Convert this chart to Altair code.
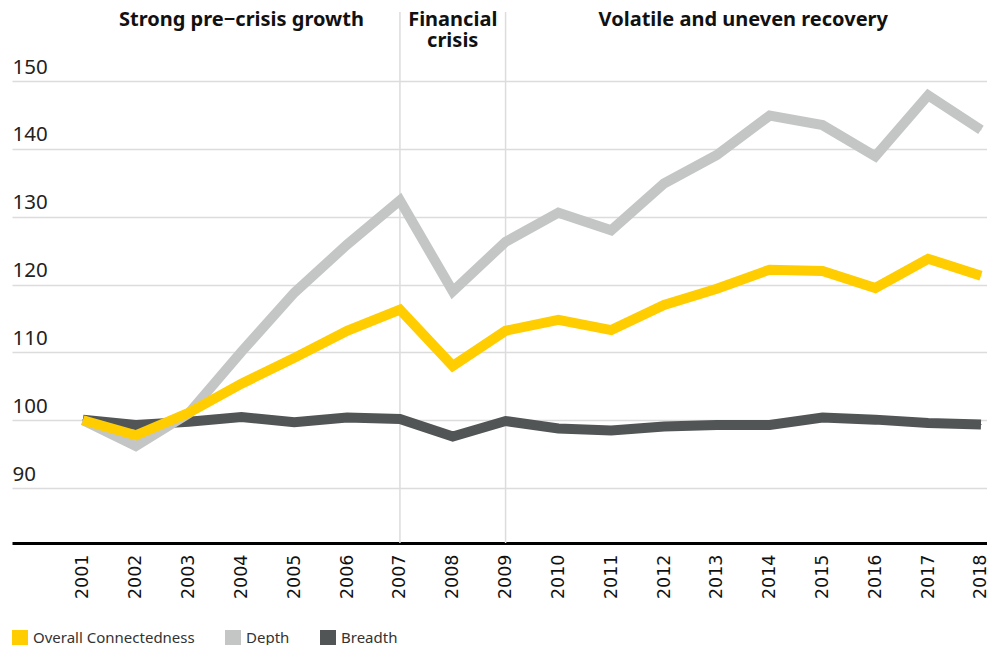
import altair as alt
import pandas as pd

years = list(range(2001, 2019))
overall = [100, 97.8, 101.1, 105.4, 109.2, 113.2, 116.3, 108.0, 113.2, 114.8, 113.3, 117.0, 119.4, 122.2, 122.0, 119.5, 123.8, 121.3]
depth = [100, 96.2, 101.0, 110.1, 118.8, 125.9, 132.4, 119.0, 126.3, 130.6, 128.0, 134.9, 139.1, 144.9, 143.5, 138.9, 147.9, 142.8]
breadth = [100.1, 99.3, 99.8, 100.5, 99.7, 100.4, 100.2, 97.6, 99.9, 98.8, 98.5, 99.1, 99.3, 99.3, 100.4, 100.1, 99.6, 99.4]

series_names = ["Overall Connectedness", "Depth", "Breadth"]
series_colors = ["#FFCD00", "#C4C6C6", "#515555"]

y_ticks = [90, 100, 110, 120, 130, 140, 150]
phase_years = [2007, 2009]
phase_labels = ["Strong pre\u2212crisis growth", "Financial\ncrisis", "Volatile and uneven recovery"]
phase_label_x = [2004, 2008, 2013.5]

rows = []
for name, vals in zip(series_names, [overall, depth, breadth]):
    for yr, v in zip(years, vals):
        rows.append({"year": yr, "value": v, "series": name})
df = pd.DataFrame(rows)

x_scale = alt.Scale(domain=[1999.656, 2018.114], nice=False, zero=False)
y_scale = alt.Scale(domain=[81.92, 160.17], nice=False, zero=False)
color_scale = alt.Scale(domain=series_names, range=series_colors)

x_axis = alt.Axis(values=years, format="d", labelAngle=270, labelAlign="right", labelBaseline="middle",
                  labelFontSize=17.5, labelFont="DejaVu Sans", labelColor="#111", labelPadding=11,
                  domainColor="#000", domainWidth=3, ticks=False, grid=False, title=None,
                  labelOverlap=False, labelBound=False, labelFlush=False)
y_axis = alt.Axis(values=y_ticks, labelAlign="left", labelBaseline="alphabetic", labelPadding=0, labelOffset=-8,
                  tickSize=0, ticks=False, domain=False, grid=True, gridColor="#dcdcdc", gridWidth=1.5,
                  labelFontSize=20.5, labelFont="Noto Sans", labelColor="#222", title=None)

base = alt.Chart(df)

legend_layer = base.mark_square(size=1, filled=True, opacity=1).encode(
    x=alt.X("year:Q", scale=x_scale, axis=x_axis),
    y=alt.Y("value:Q", scale=y_scale, axis=y_axis),
    fill=alt.Fill("series:N", scale=color_scale, title=None,
                  legend=alt.Legend(orient="none", legendX=0, legendY=618, direction="horizontal",
                                    symbolType="square", symbolSize=256, symbolStrokeWidth=0,
                                    labelFontSize=15, labelFont="Noto Sans", labelColor="#333",
                                    labelLimit=400, labelOffset=5, columnPadding=30, padding=0)),
)

def line_for(name):
    return base.transform_filter(alt.datum.series == name).mark_line(strokeWidth=10, strokeCap="butt").encode(
        x=alt.X("year:Q", scale=x_scale),
        y=alt.Y("value:Q", scale=y_scale),
        stroke=alt.Stroke("series:N", scale=color_scale, legend=None),
    )

rules_df = pd.DataFrame({"year": phase_years})
rules = alt.Chart(rules_df).mark_rule(color="#dcdcdc", strokeWidth=1.5).encode(
    x=alt.X("year:Q", scale=x_scale),
    y=alt.value(0),
    y2=alt.value(531),
)

labels_df = pd.DataFrame({"x": phase_label_x, "label": phase_labels})
phase_text = alt.Chart(labels_df).mark_text(fontSize=20, fontWeight="bold", font="Noto Sans", color="#111",
                                            baseline="alphabetic", align="center", lineBreak="\n",
                                            lineHeight=20.5).encode(
    x=alt.X("x:Q", scale=x_scale),
    y=alt.value(14),
    text="label:N",
)

chart = alt.layer(
    rules, legend_layer, line_for("Breadth"), line_for("Depth"), line_for("Overall Connectedness"), phase_text
).properties(
    width=975, height=531,
    padding={"left": 4, "top": 4, "right": 0, "bottom": 102},
    autosize=alt.AutoSizeParams(type="none"),
).configure_view(stroke=None).resolve_scale(fill="independent", stroke="independent")

chart.save("out.html", embed_options={"renderer": "svg", "actions": False})
